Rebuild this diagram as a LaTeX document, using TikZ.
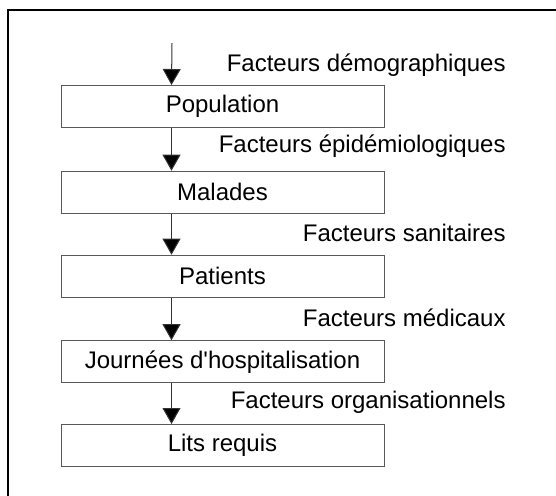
\documentclass[tikz,border=0pt]{standalone}
\usepackage{fontspec}
\setmainfont{Liberation Sans}
\usetikzlibrary{arrows.meta}
\begin{document}
\begin{tikzpicture}[x=0.5pt,y=-0.5pt,
  etape/.style={shape=rectangle,draw=black!65,line width=0.5pt,minimum width=161.5pt,minimum height=21pt,inner sep=0pt,font=\fontsize{12}{14}\selectfont},
  facteur/.style={anchor=base east,inner sep=0pt,font=\fontsize{12}{14}\selectfont},
  fleche/.style={draw=black!80,line width=0.5pt,-{Triangle[width=9pt,length=8pt,fill=black]}}]
\useasboundingbox (0,0) rectangle (556,495);
\draw[line width=1pt] (8,500) -- (8,10) -- (560,10);

\coordinate (in) at (172,43);
\node[etape](pop) at (222.5,106.5) {Population};
\node[etape](mal) at (222.5,192.2) {Malades};
\node[etape](pat) at (222.5,276.2) {Patients};
\node[etape](jour) at (222.5,361.7) {Journées d\textquotesingle hospitalisation};
\node[etape](lits) at (222.5,445.5) {Lits requis};

\node[facteur](fdem) at (506,71) {Facteurs démographiques};
\node[facteur](fepi) at (506,152) {Facteurs épidémiologiques};
\node[facteur](fsan) at (506,241.5) {Facteurs sanitaires};
\node[facteur](fmed) at (506,326.5) {Facteurs médicaux};
\node[facteur](forg) at (506,408.5) {Facteurs organisationnels};

\draw[fleche] (in) -- ([xshift=55.5pt]pop.north west);
\draw[fleche] ([xshift=55.5pt]pop.south west) -- ([xshift=55.5pt]mal.north west);
\draw[fleche] ([xshift=55.5pt]mal.south west) -- ([xshift=55.5pt]pat.north west);
\draw[fleche] ([xshift=55.5pt]pat.south west) -- ([xshift=55.5pt]jour.north west);
\draw[fleche] ([xshift=55.5pt]jour.south west) -- ([xshift=55.5pt]lits.north west);
\end{tikzpicture}
\end{document}
